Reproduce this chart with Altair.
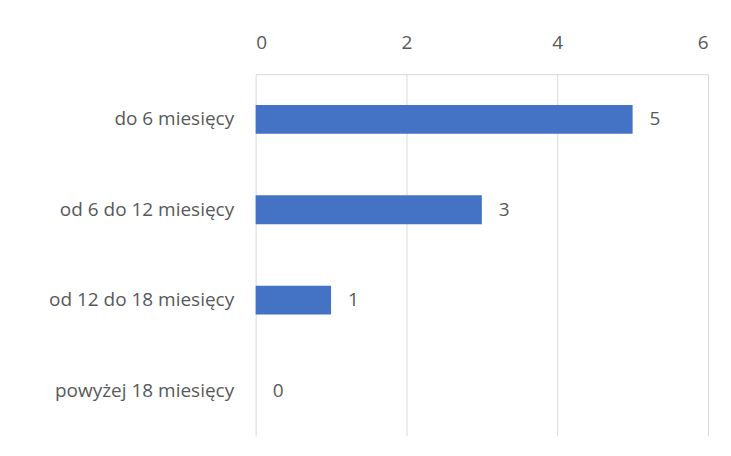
import altair as alt
import pandas as pd

categories = ["do 6 miesięcy", "od 6 do 12 miesięcy", "od 12 do 18 miesięcy", "powyżej 18 miesięcy"]
values = [5, 3, 1, 0]
x_ticks = [0, 2, 4, 6]

df = pd.DataFrame({"kategoria": categories, "liczba": values})

FONT = "Open Sans"
FS = 19
TXT = "#595959"
GRID = "#d9d9d9"

x = alt.X("liczba:Q",
          scale=alt.Scale(domain=[0, 6], nice=False),
          axis=alt.Axis(orient="top", values=x_ticks, title=None, ticks=False,
                        grid=True, gridColor=GRID, gridWidth=1,
                        domain=True, domainColor=GRID, domainWidth=1,
                        labelFont=FONT, labelFontSize=FS, labelColor=TXT,
                        labelPadding=22, format="d"))
y = alt.Y("kategoria:N", sort=categories,
          scale=alt.Scale(paddingInner=0.68, paddingOuter=0.34),
          axis=alt.Axis(title=None, ticks=False, domain=False,
                        labelFont=FONT, labelFontSize=FS, labelColor=TXT,
                        labelPadding=22, labelLimit=300))

bars = alt.Chart(df).mark_bar(color="#4472C4").encode(x=x, y=y)
labels = alt.Chart(df).mark_text(align="left", baseline="middle", dx=17,
                                 font=FONT, fontSize=FS, color=TXT).encode(
    x="liczba:Q", y=alt.Y("kategoria:N", sort=categories), text="liczba:Q")

chart = alt.layer(bars, labels).properties(
    width=453, height=362,
    autosize=alt.AutoSizeParams(type="none"),
    padding={"left": 248, "top": 66, "right": 15, "bottom": 12},
    background="white",
).configure_view(stroke=None)

chart.save("out.html", embed_options={"renderer": "svg", "actions": False})
